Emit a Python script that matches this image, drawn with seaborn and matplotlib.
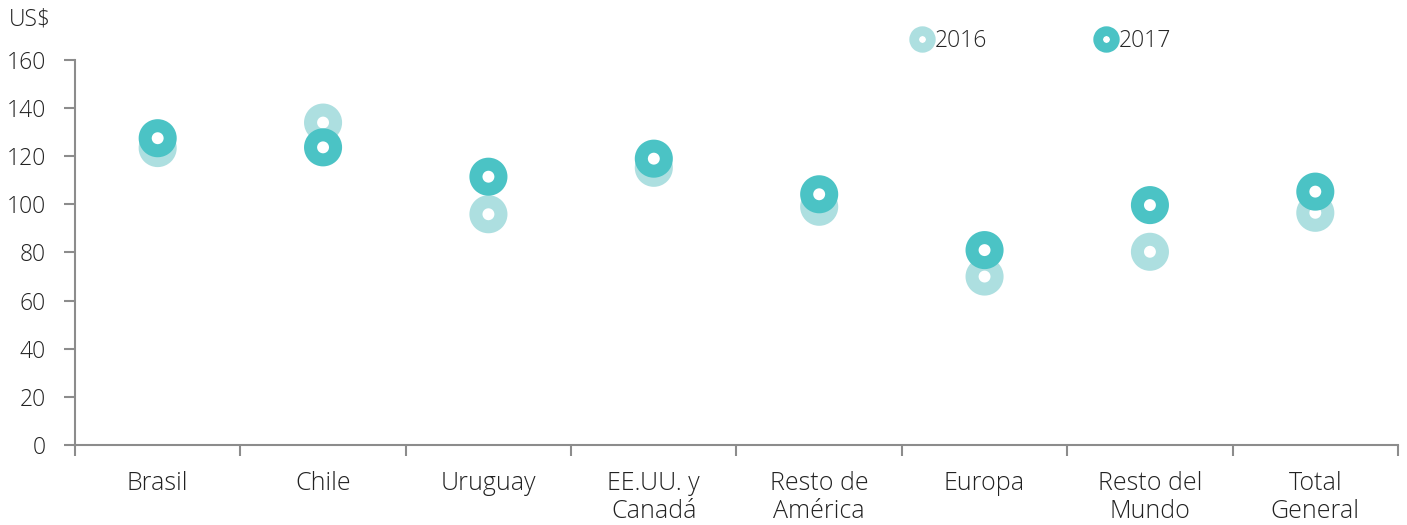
import numpy as np
import pandas as pd
import matplotlib
matplotlib.use("Agg")
import matplotlib.pyplot as plt
import seaborn as sns

# data
categories = ["Brasil", "Chile", "Uruguay", "EE.UU. y\nCanadá", "Resto de\nAmérica",
              "Europa", "Resto del\nMundo", "Total\nGeneral"]
values_2016 = [123.4, 134.0, 95.9, 115.2, 99.0, 70.0, 80.3, 96.5]
values_2017 = [127.5, 123.7, 111.5, 119.0, 104.2, 81.0, 99.7, 105.3]
years = ["2016", "2017"]

df = pd.DataFrame({
    "cat": categories * 2,
    "value": values_2016 + values_2017,
    "year": ["2016"] * len(categories) + ["2017"] * len(categories),
})

sns.set_style("white")
plt.rcParams["font.family"] = ["Open Sans", "DejaVu Sans"]
plt.rcParams["font.weight"] = "light"

light = "#ADDFE0"
dark = "#4BC3C5"
grey = "#8C8C8C"
txt = "#222222"

fig = plt.figure(figsize=(14.07, 5.25), dpi=100)
ax = fig.add_axes([0.0533, 0.1524, 0.9403, 0.7333])

sns.scatterplot(
    data=df, x="cat", y="value", hue="year", hue_order=years,
    palette={"2016": light, "2017": dark},
    s=324, marker="o", linewidth=9.4,
    ax=ax, legend=False, zorder=3,
)
# ring look: white face with a thick coloured edge
ax.collections[0].set_facecolor("white")
ax.collections[0].set_edgecolor([light if y == "2016" else dark for y in df["year"]])

ax.set_xlim(-0.5, len(categories) - 0.5)
ax.set_ylim(0, 160)
ax.set_yticks(range(0, 161, 20))
ax.set_xticks(range(len(categories)))
ax.set_xticklabels(categories, fontsize=18, color=txt, linespacing=1.15)
ax.set_xticks(np.arange(-0.5, len(categories), 1), minor=True)
ax.tick_params(axis="x", which="major", bottom=True, length=0, pad=19)
ax.tick_params(axis="x", which="minor", bottom=True, length=8, width=1.5, color=grey)
ax.tick_params(axis="y", left=True, length=8, width=1.5, color=grey, labelsize=16.5,
               labelcolor=txt, pad=13)
ax.set_xlabel("")
ax.set_ylabel("")

for side in ["top", "right"]:
    ax.spines[side].set_visible(False)
for side in ["left", "bottom"]:
    ax.spines[side].set_color(grey)
    ax.spines[side].set_linewidth(1.5)

fig.text(0.006, 0.962, "US$", fontsize=16.5, color=txt, va="center")

# legend
handles = [
    plt.Line2D([], [], marker="o", linestyle="", markersize=12,
               markerfacecolor="white", markeredgecolor=c, markeredgewidth=7)
    for c in [light, dark]
]
ax.legend(handles, years, ncol=2, frameon=False, fontsize=16.5,
          loc="center", bbox_to_anchor=(0.73, 1.05), handletextpad=0.05,
          columnspacing=4.7, handlelength=1.0)

fig.savefig("out.png", dpi=100)
